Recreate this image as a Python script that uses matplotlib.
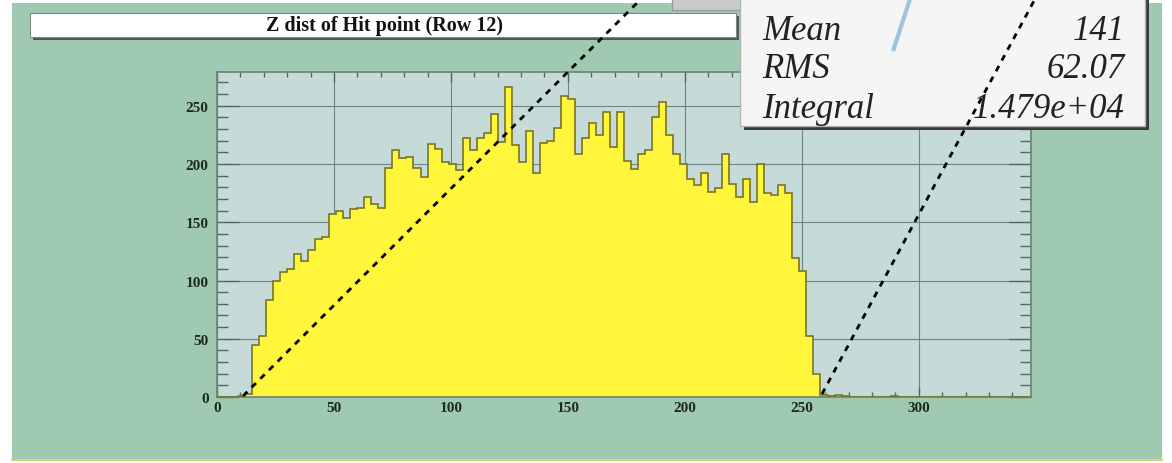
import numpy as np
import matplotlib
matplotlib.use("Agg")
import matplotlib.pyplot as plt
from matplotlib.patches import Rectangle

# histogram contents, bins of width 3 starting at 0
bin_width = 3
counts = [0, 0, 0, 1, 3, 45, 52, 83, 100, 107,
          110, 123, 117, 126, 136, 137, 157, 160, 154, 161,
          162, 172, 166, 162, 197, 212, 205, 206, 197, 189,
          217, 213, 202, 200, 195, 222, 212, 222, 227, 243,
          219, 266, 216, 202, 228, 192, 218, 220, 231, 258,
          256, 209, 222, 235, 225, 245, 215, 245, 203, 196,
          209, 212, 240, 253, 225, 209, 200, 187, 182, 192,
          176, 179, 209, 183, 172, 187, 167, 200, 175, 173,
          182, 175, 119, 108, 52, 20, 2, 1, 2, 1,
          0, 0, 0, 0, 0, 0, 1, 0, 0, 0,
          0, 0, 0, 0, 0, 0, 0, 0, 0, 0,
          0, 0, 0, 0, 0, 0]
x_ticks = [0, 50, 100, 150, 200, 250, 300]
y_ticks = [0, 50, 100, 150, 200, 250]
title = "Z dist of Hit point (Row 12)"
stat_names = ["Mean", "RMS", "Integral"]
stat_values = ["141", "62.07", "1.479e+04"]

edges = np.arange(len(counts) + 1) * bin_width

W, H = 1172, 464
canvas_green = "#a0c9b2"
frame_bg = "#c6dbd7"
dark = "#1c2b22"

fig = plt.figure(figsize=(W / 100, H / 100), dpi=100)
fig.patch.set_facecolor("white")

# background layer in pixel coordinates
bg = fig.add_axes([0, 0, 1, 1], zorder=0)
bg.set_xlim(0, W); bg.set_ylim(H, 0); bg.axis("off")
bg.add_patch(Rectangle((12, 4), 1150, 458, color=canvas_green, lw=0))
bg.plot([12, 1162], [461, 461], color="#c9d77a", lw=1.5)
bg.add_patch(Rectangle((33, 17), 706, 24, color="#4d5a52", lw=0))
bg.add_patch(Rectangle((30, 14), 706, 24, facecolor="white", edgecolor="#7c8a80", lw=0.8))
bg.text(384, 26, title, ha="center", va="center", fontsize=14.5,
        fontweight="bold", family="Liberation Serif", color="#111111")

# histogram frame
ax = fig.add_axes([217 / W, (H - 398) / H, (1031 - 217) / W, (398 - 73) / H], zorder=1)
ax.set_facecolor(frame_bg)
ax.stairs(counts, edges, fill=True, color="#fff53a", zorder=2)
ax.stairs(counts, edges, color="#7a7424", lw=1.2, zorder=3)
ax.set_xlim(0, 348)
ax.set_ylim(0, 279)
ax.set_xticks(x_ticks)
ax.set_yticks(y_ticks)
ax.set_xticks(np.arange(0, 348, 10), minor=True)
ax.set_yticks(np.arange(0, 279, 10), minor=True)
ax.grid(True, which="major", color="#6f8580", lw=0.8, zorder=1)
ax.set_axisbelow(True)
ax.tick_params(axis="x", which="major", direction="in", length=7, width=1,
               top=True, bottom=True, color="#4e6a5c", pad=3)
ax.tick_params(axis="x", which="minor", direction="in", length=3.5, width=1,
               top=True, bottom=True, color="#4e6a5c")
ax.tick_params(axis="y", which="major", direction="in", length=16, width=1,
               left=True, right=True, color="#4e6a5c", pad=6)
ax.tick_params(axis="y", which="minor", direction="in", length=8, width=1,
               left=True, right=True, color="#4e6a5c")
for lab in ax.get_xticklabels() + ax.get_yticklabels():
    lab.set_family("Liberation Serif")
    lab.set_fontweight("bold")
    lab.set_fontsize(11)
    lab.set_color(dark)
for sp in ax.spines.values():
    sp.set_color("#6a8278")
    sp.set_linewidth(1.2)

# overlay layer: stats box and zoom guide lines
ov = fig.add_axes([0, 0, 1, 1], zorder=3)
ov.set_xlim(0, W); ov.set_ylim(H, 0); ov.axis("off")
ov.patch.set_alpha(0)
ov.add_patch(Rectangle((672, -2), 380, 13, facecolor="#c9cbcb", edgecolor="#9a9c9c", lw=1))
ov.add_patch(Rectangle((744, -5), 405, 136, color="#3b3b3b", lw=0))
ov.add_patch(Rectangle((740, -5), 405, 132, facecolor="#f4f5f4", edgecolor="#b0b6b2", lw=1))
ov.plot([910, 893], [0, 52], color="#9ec3dd", lw=3, solid_capstyle="butt")
for i, (name, val) in enumerate(zip(stat_names, stat_values)):
    yy = 31 + i * 39
    ov.text(762, yy, name, ha="left", va="center", fontsize=25, style="italic",
            family="Liberation Serif", color="#222222")
    ov.text(1125, yy, val, ha="right", va="center", fontsize=25, style="italic",
            family="Liberation Serif", color="#222222")
ov.plot([243, 641], [397, 0], color="black", lw=2, dashes=(2.2, 2.2))
ov.plot([822, 1035], [395, 0], color="black", lw=2, dashes=(2.2, 2.2))

fig.savefig("out.png", dpi=100)
